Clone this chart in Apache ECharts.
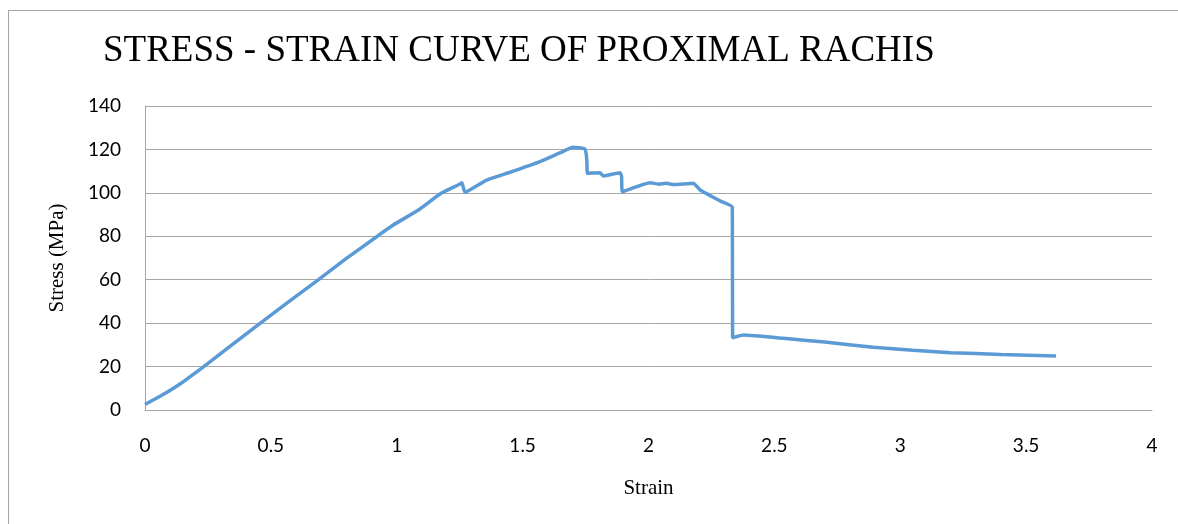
<!DOCTYPE html>
<html><head><meta charset="utf-8">
<script src="https://cdn.jsdelivr.net/npm/echarts@6/dist/echarts.min.js"></script>
<style>
html,body{margin:0;padding:0;background:#fff;overflow:hidden;width:1178px;height:524px;}
#frame{position:absolute;left:8px;top:10px;width:1170px;height:514px;border-left:1px solid #a6a6a6;border-top:1px solid #a6a6a6;box-sizing:border-box;}
#c{position:absolute;left:0;top:0;width:1178px;height:524px;}
</style></head>
<body>
<div id="frame"></div>
<div id="c"></div>
<script>
const titleText = "STRESS - STRAIN CURVE OF PROXIMAL RACHIS";
const xName = "Strain";
const yName = "Stress (MPa)";
const strain = [0, 0.07, 0.139, 0.232, 0.34, 0.457, 0.57, 0.688, 0.80, 0.920, 0.986, 1.086, 1.172, 1.251, 1.259, 1.271, 1.357, 1.45, 1.569, 1.65, 1.701, 1.748, 1.755, 1.758, 1.807, 1.821, 1.887, 1.893, 1.896, 2.006, 2.04, 2.072, 2.099, 2.178, 2.205, 2.284, 2.333, 2.334, 2.377, 2.536, 2.7, 2.893, 3.05, 3.2, 3.4, 3.619];
const stress = [2.5, 7, 12, 19.9, 29.5, 39.9, 49.8, 59.9, 69.8, 79.8, 85.2, 92.1, 99.5, 104.1, 104.7, 100.3, 105.9, 109.5, 114.4, 118.5, 121.0, 120.1, 115, 109.0, 109.3, 107.8, 109.3, 107.5, 100.6, 104.7, 104.0, 104.4, 103.8, 104.4, 101.3, 96.3, 93.4, 33.3, 34.5, 33.0, 31.3, 28.9, 27.5, 26.4, 25.6, 24.9];
const xTicks = [0, 0.5, 1, 1.5, 2, 2.5, 3, 3.5, 4];
const yTicks = [0, 20, 40, 60, 80, 100, 120, 140];

const chart = echarts.init(document.getElementById('c'), null, {renderer:'canvas'});
const gridColor = '#a6a6a6';
chart.setOption({
  animation:false,
  title:{text:titleText, left:98, top:28, textStyle:{fontFamily:'Liberation Serif', fontWeight:'normal', fontSize:37, color:'#000'}},
  grid:{left:145, top:106, width:1007, height:304, containLabel:false},
  xAxis:{type:'value', min:xTicks[0], max:xTicks[xTicks.length-1], interval:0.5,
    name:xName, nameLocation:'middle', nameGap:68,
    nameTextStyle:{fontFamily:'Liberation Serif', fontSize:21, color:'#000'},
    axisLine:{show:true, lineStyle:{color:gridColor, width:1}},
    axisTick:{show:false},
    splitLine:{show:false},
    axisLabel:{margin:26, fontFamily:'Lato', fontSize:19, color:'#000'}},
  yAxis:{type:'value', min:yTicks[0], max:yTicks[yTicks.length-1], interval:20,
    name:yName, nameLocation:'middle', nameGap:77, nameRotate:90,
    nameTextStyle:{fontFamily:'Liberation Serif', fontSize:21, color:'#000'},
    axisLine:{show:true, lineStyle:{color:gridColor, width:1}},
    axisTick:{show:false},
    splitLine:{show:true, lineStyle:{color:gridColor, width:1}},
    axisLabel:{margin:24, fontFamily:'Lato', fontSize:19, color:'#000'}},
  series:[{type:'line', data:strain.map((x,i)=>[x, stress[i]]), showSymbol:false,
    lineStyle:{color:'#5b9bd5', width:3.5}, smooth:0.15}]
});
</script>
</body></html>
